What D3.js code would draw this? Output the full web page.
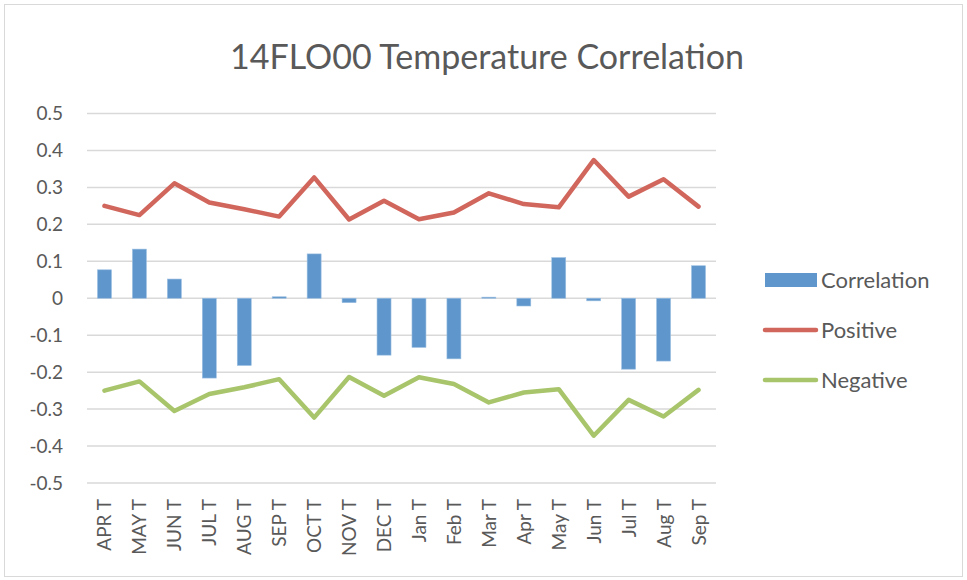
<!doctype html>
<html lang="en">
<head>
  <meta charset="utf-8">
  <title>14FLO00 Temperature Correlation</title>
  <script src="https://cdnjs.cloudflare.com/ajax/libs/d3/7.8.5/d3.min.js"></script>
  <style>
    body { margin: 0; background: #fff; }
    text { font-family: Lato, "Open Sans", sans-serif; fill: #595959; }
  </style>
</head>
<body>
<div id="chart"></div>
<script>

// data
var months = ["APR T", "MAY T", "JUN T", "JUL T", "AUG T", "SEP T", "OCT T", "NOV T", "DEC T",
              "Jan T", "Feb T", "Mar T", "Apr T", "May T", "Jun T", "Jul T", "Aug T", "Sep T"];
var correlation = [0.077, 0.133, 0.052, -0.216, -0.182, 0.004, 0.120, -0.012, -0.154,
                   -0.133, -0.164, 0.003, -0.021, 0.110, -0.007, -0.192, -0.170, 0.088];
var positive = [0.250, 0.225, 0.311, 0.259, 0.241, 0.221, 0.327, 0.213, 0.264,
                0.214, 0.232, 0.284, 0.255, 0.246, 0.374, 0.275, 0.322, 0.248];
var negative = [-0.250, -0.225, -0.305, -0.259, -0.241, -0.219, -0.323, -0.213, -0.264,
                -0.214, -0.232, -0.282, -0.255, -0.246, -0.372, -0.275, -0.320, -0.248];
var yTicks = [0.5, 0.4, 0.3, 0.2, 0.1, 0, -0.1, -0.2, -0.3, -0.4, -0.5];

var W = 967, H = 580;
var margin = {top: 113.5, left: 87, right: 251, bottom: 97};
var width = W - margin.left - margin.right,
    height = H - margin.top - margin.bottom;

var svg = d3.select("#chart").append("svg")
    .attr("width", W)
    .attr("height", H);

// outer border
svg.append("rect")
    .attr("x", 4.5).attr("y", 4.5)
    .attr("width", W - 9).attr("height", H - 8)
    .attr("fill", "#fff")
    .attr("stroke", "#d9d9d9");

svg.append("text")
    .attr("x", 487).attr("y", 69)
    .attr("text-anchor", "middle")
    .style("font-size", "34px")
    .text("14FLO00 Temperature Correlation");

var g = svg.append("g")
    .attr("transform", "translate(" + margin.left + "," + margin.top + ")");

var x = d3.scaleBand().domain(months).range([0, width]);
var y = d3.scaleLinear().domain([-0.5, 0.5]).range([height, 0]);

// gridlines
g.selectAll(".grid")
  .data(yTicks)
  .enter().append("line")
    .attr("x1", 0).attr("x2", width)
    .attr("y1", function(d) { return y(d); })
    .attr("y2", function(d) { return y(d); })
    .attr("stroke", "#d9d9d9")
    .attr("stroke-width", 1.5);

// y labels
g.selectAll(".ylab")
  .data(yTicks)
  .enter().append("text")
    .attr("x", -24)
    .attr("y", function(d) { return y(d); })
    .attr("dy", "0.35em")
    .attr("text-anchor", "end")
    .style("font-size", "19px")
    .text(function(d) { return d3.format(".1f")(d).replace("0.0", "0").replace("−", "-"); });

// x labels
g.selectAll(".xlab")
  .data(months)
  .enter().append("text")
    .attr("transform", function(d) {
      return "translate(" + (x(d) + x.bandwidth() / 2 + 7) + "," + (height + 16) + ")rotate(-90)";
    })
    .attr("text-anchor", "end")
    .style("font-size", "19px")
    .text(function(d) { return d; });

// bars
var bw = x.bandwidth() * 0.4;
g.selectAll(".bar")
  .data(correlation)
  .enter().append("rect")
    .attr("x", function(d, i) { return x(months[i]) + (x.bandwidth() - bw) / 2; })
    .attr("y", function(d) { return y(Math.max(0, d)); })
    .attr("width", bw)
    .attr("height", function(d) { return Math.abs(y(d) - y(0)); })
    .attr("fill", "#5f96cb")
    .attr("stroke", "#9cc0e3")
    .attr("stroke-width", 0.6);

var line = d3.line()
    .x(function(d, i) { return x(months[i]) + x.bandwidth() / 2; })
    .y(function(d) { return y(d); });

g.append("path").datum(positive)
    .attr("d", line)
    .attr("fill", "none")
    .attr("stroke", "#d1665c")
    .attr("stroke-width", 4.5)
    .attr("stroke-linejoin", "round")
    .attr("stroke-linecap", "round");

g.append("path").datum(negative)
    .attr("d", line)
    .attr("fill", "none")
    .attr("stroke", "#a8c56b")
    .attr("stroke-width", 4.5)
    .attr("stroke-linejoin", "round")
    .attr("stroke-linecap", "round");

// legend
var legend = [
  {name: "Correlation", color: "#5f96cb", type: "bar", y: 280},
  {name: "Positive", color: "#d1665c", type: "line", y: 330},
  {name: "Negative", color: "#a8c56b", type: "line", y: 380}
];
var lg = svg.append("g");
legend.forEach(function(l) {
  if (l.type == "bar") {
    lg.append("rect")
      .attr("x", 765).attr("y", l.y - 7)
      .attr("width", 52).attr("height", 14)
      .attr("fill", l.color);
  } else {
    lg.append("line")
      .attr("x1", 765).attr("x2", 816)
      .attr("y1", l.y).attr("y2", l.y)
      .attr("stroke", l.color)
      .attr("stroke-width", 4.5)
      .attr("stroke-linecap", "round");
  }
  lg.append("text")
    .attr("x", 821).attr("y", l.y)
    .attr("dy", "0.35em")
    .style("font-size", "22px")
    .text(l.name);
});

</script>
</body>
</html>
